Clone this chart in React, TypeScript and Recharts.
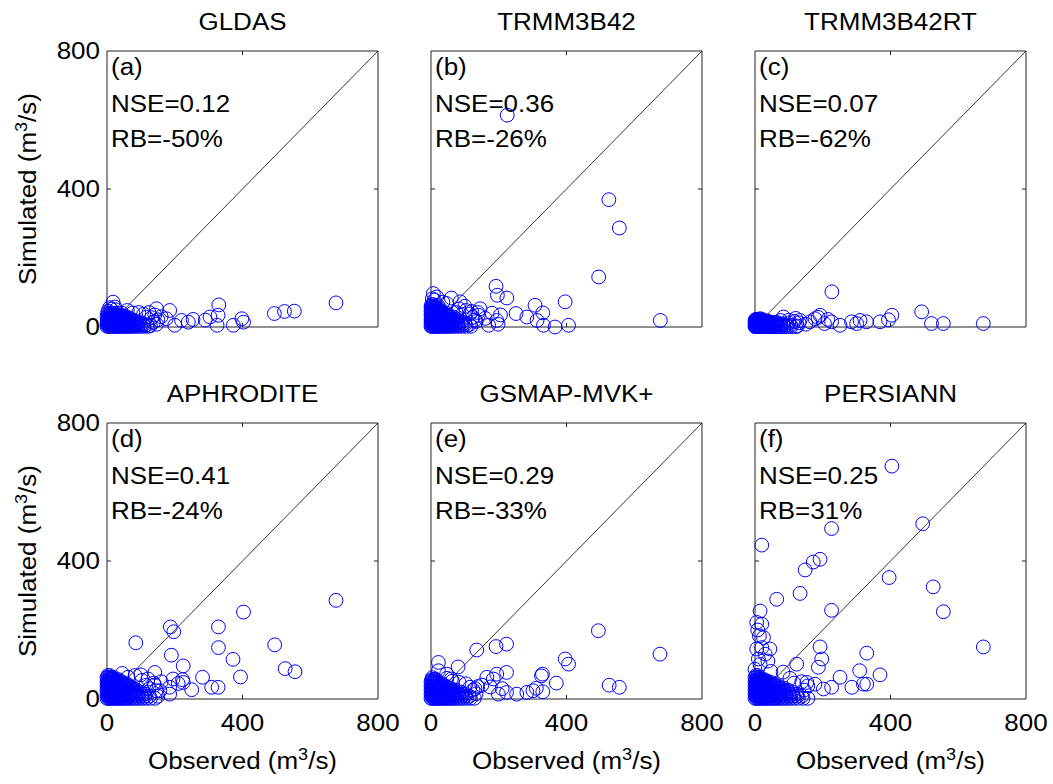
import { ScatterChart, Scatter, XAxis, YAxis, ReferenceLine, ReferenceArea, Label } from 'recharts';

type Pair = [number, number];

const FONT = '"Liberation Sans", Arial, Helvetica, sans-serif';
const axisTicks = [0, 400, 800];
const titles = ['GLDAS', 'TRMM3B42', 'TRMM3B42RT', 'APHRODITE', 'GSMAP-MVK+', 'PERSIANN'];
const tags = ['(a)', '(b)', '(c)', '(d)', '(e)', '(f)'];
const nseValues = ['0.12', '0.36', '0.07', '0.41', '0.29', '0.25'];
const rbValues = ['-50%', '-26%', '-62%', '-24%', '-33%', '31%'];

// scattered points: [observed, simulated] (m3/s)
const gldas: Pair[] = [
  [676, 70], [553, 46], [524, 45], [494, 39], [403, 14], [398, 24], [373, 5], [330, 64], [328, 34], [325, 5],
  [304, 29], [290, 20], [254, 22], [240, 14], [220, 19], [200, 5], [185, 48], [175, 24], [146, 53], [160, 30],
  [18, 72], [23, 58], [8, 56], [3, 46], [12, 52], [26, 50], [60, 48], [44, 40], [76, 41], [94, 42], [108, 37],
  [124, 42], [132, 27], [137, 14], [141, 35], [146, 8], [150, 21], [116, 28], [128, 4],
];

const trmm3b42: Pair[] = [
  [225, 614], [525, 369], [556, 287], [495, 145], [677, 19], [396, 73], [192, 118], [224, 84], [196, 92],
  [307, 63], [330, 41], [283, 29], [251, 39], [313, 19], [332, 5], [366, 0], [406, 5], [194, 19], [170, 5],
  [198, 8], [145, 53], [205, 35], [180, 40], [160, 25], [86, 73], [46, 68], [17, 87], [7, 97], [60, 84],
  [100, 60], [120, 45], [130, 20], [140, 34], [4, 82], [10, 78], [20, 62], [35, 72], [83, 52], [103, 48],
  [115, 38], [124, 28], [133, 16], [138, 42], [74, 42], [92, 36],
];

const trmm3b42rt: Pair[] = [
  [227, 102], [492, 44], [674, 10], [556, 10], [521, 10], [404, 34], [394, 21], [369, 15], [329, 15], [310, 19],
  [300, 10], [285, 15], [251, 5], [226, 15], [192, 34], [186, 28], [177, 24], [162, 15], [150, 8], [133, 19],
  [120, 25], [84, 29], [100, 12], [205, 10], [215, 22], [116, 16], [125, 3], [130, 12], [100, 20], [75, 19],
  [3, 22], [15, 24],
];

const aphrodite: Pair[] = [
  [676, 286], [403, 252], [329, 209], [329, 149], [495, 157], [372, 115], [394, 64], [526, 88], [555, 79],
  [187, 209], [197, 195], [85, 163], [190, 127], [225, 96], [282, 63], [223, 56], [225, 48], [309, 34],
  [328, 34], [250, 27], [195, 58], [141, 77], [121, 58], [62, 63], [185, 34], [156, 24], [185, 14], [160, 50],
  [140, 40], [210, 45], [45, 74], [100, 70], [83, 68], [10, 62], [138, 46], [145, 24], [150, 8], [115, 40],
  [124, 30], [103, 54],
];

const gsmap: Pair[] = [
  [494, 198], [676, 130], [396, 116], [406, 101], [526, 40], [556, 34], [223, 159], [192, 152], [135, 142],
  [329, 72], [326, 67], [370, 46], [311, 31], [330, 21], [301, 24], [283, 19], [253, 14], [223, 19], [199, 14],
  [223, 77], [194, 72], [184, 58], [165, 63], [80, 93], [22, 106], [22, 82], [46, 72], [150, 40], [130, 30],
  [175, 35], [210, 30], [4, 62], [12, 58], [60, 58], [47, 60], [63, 52], [83, 48], [103, 44], [115, 34],
  [138, 36], [124, 26], [133, 15],
];

const persiann: Pair[] = [
  [404, 675], [495, 508], [226, 494], [20, 446], [192, 405], [172, 397], [148, 374], [396, 352], [526, 325],
  [133, 306], [64, 289], [556, 253], [226, 257], [674, 151], [15, 255], [5, 222], [20, 217], [13, 183],
  [25, 178], [5, 145], [20, 149], [44, 145], [10, 116], [192, 151], [197, 116], [330, 133], [187, 92],
  [123, 101], [309, 82], [251, 63], [369, 70], [330, 43], [320, 43], [286, 34], [226, 34], [202, 29],
  [177, 43], [153, 48], [8, 200], [30, 130], [15, 100], [38, 110], [0, 86], [47, 80], [83, 78], [103, 60],
  [138, 50], [145, 26], [156, 38], [115, 46],
];

// dense low-flow cloud near the origin: [simulated, ...observed values at that level]
const gldasDense: number[][] = [
  [2, 0, 4, 9, 13, 18, 22, 27, 31, 36, 41, 45, 50, 55, 60, 66, 71, 77, 84, 92, 101, 110, 122],
  [6, 2, 6, 11, 15, 20, 25, 29, 34, 39, 43, 48, 53, 58, 63, 69, 75, 82, 90, 99, 108, 118],
  [10, 0, 5, 9, 14, 19, 23, 28, 33, 38, 42, 47, 52, 57, 62, 68, 74, 80, 88, 96, 105],
  [15, 3, 7, 12, 17, 21, 26, 31, 36, 40, 45, 50, 56, 61, 67, 73, 79, 86, 94],
  [20, 1, 5, 10, 15, 20, 24, 29, 34, 39, 44, 49, 54, 60, 66, 72, 78],
  [25, 3, 8, 13, 18, 23, 28, 33, 38, 43, 48, 54, 60, 67],
  [30, 0, 6, 11, 16, 21, 27, 32, 38, 44, 50, 57],
  [35, 4, 9, 15, 21, 27, 34, 41],
  [40, 2, 8, 14, 22],
];

const trmm3b42Dense: number[][] = [
  [2, 0, 3, 7, 10, 14, 18, 22, 26, 30, 35, 40, 45, 51, 57, 64, 72, 81, 92, 104, 118],
  [7, 1, 5, 9, 13, 17, 21, 25, 29, 34, 39, 44, 50, 56, 63, 71, 80, 90, 101, 113],
  [12, 0, 3, 7, 11, 15, 19, 23, 27, 32, 37, 42, 48, 54, 61, 69, 78, 88, 99],
  [17, 2, 6, 10, 14, 18, 22, 26, 31, 36, 41, 47, 53, 60, 68, 77, 87],
  [23, 0, 4, 8, 12, 16, 20, 25, 30, 35, 40, 46, 52, 59, 67, 76],
  [29, 1, 5, 9, 13, 17, 22, 27, 32, 38, 44, 51, 58, 66],
  [35, 0, 4, 8, 12, 16, 21, 26, 31, 37, 43, 50],
  [41, 2, 6, 10, 14, 19, 24, 30, 36, 43],
  [47, 0, 4, 8, 12, 17, 23, 29],
  [53, 1, 5, 9, 14, 20, 26],
  [59, 0, 4, 8, 13],
  [65, 2, 6],
];

const trmm3b42rtDense: number[][] = [
  [1, 0, 3, 6, 9, 12, 15, 18, 21, 24, 28, 32, 36, 40, 45, 50, 56, 62, 69, 77, 86, 96, 107, 120],
  [5, 1, 4, 7, 10, 13, 16, 19, 22, 26, 30, 34, 38, 43, 48, 54, 60, 67, 75, 84, 94, 105],
  [9, 0, 3, 6, 9, 12, 15, 18, 21, 25, 29, 33, 37, 42, 47, 53, 59, 66, 74, 83],
  [13, 2, 5, 8, 11, 14, 17, 20, 24, 28, 32, 36, 41, 46, 52, 58, 65],
  [17, 0, 3, 6, 9, 12, 16, 20, 24, 28, 33, 38],
  [21, 1, 4, 7, 11, 15, 19, 24],
];

const aphroditeDense: number[][] = [
  [2, 0, 4, 8, 12, 16, 20, 25, 30, 35, 40, 45, 51, 57, 63, 70, 78, 86, 95, 105, 116, 128, 142],
  [8, 2, 6, 10, 14, 18, 23, 28, 33, 38, 43, 49, 55, 61, 68, 75, 83, 92, 102, 113, 125],
  [14, 0, 4, 8, 12, 16, 21, 26, 31, 36, 42, 48, 54, 60, 67, 74, 82, 91, 101, 112],
  [20, 2, 6, 10, 14, 19, 24, 29, 34, 40, 46, 52, 58, 65, 72, 80, 89, 99],
  [26, 0, 4, 8, 12, 17, 22, 27, 32, 38, 44, 50, 56, 63, 70, 78, 87],
  [32, 2, 6, 10, 15, 20, 25, 30, 36, 42, 48, 54, 61, 68, 76],
  [38, 0, 4, 8, 13, 18, 23, 28, 34, 40, 46, 53, 60, 67],
  [44, 2, 6, 11, 16, 21, 26, 32, 38, 44, 51, 58],
  [50, 0, 4, 9, 14, 19, 24, 30, 36, 43],
  [56, 2, 7, 12, 17, 22, 28, 34],
  [62, 0, 5, 10, 15, 21],
  [68, 3, 8],
];

const gsmapDense: number[][] = [
  [2, 0, 4, 8, 12, 16, 20, 25, 30, 35, 40, 45, 51, 57, 63, 70, 78, 86, 95, 105, 116, 128],
  [8, 2, 6, 10, 14, 18, 23, 28, 33, 38, 43, 49, 55, 61, 68, 75, 83, 92, 102, 113],
  [14, 0, 4, 8, 12, 16, 21, 26, 31, 36, 42, 48, 54, 60, 67, 74, 82, 91, 101],
  [20, 2, 6, 10, 14, 19, 24, 29, 34, 40, 46, 52, 58, 65, 72, 80, 89],
  [26, 0, 4, 8, 12, 17, 22, 27, 32, 38, 44, 50, 57, 64, 72],
  [32, 2, 6, 10, 15, 20, 25, 30, 36, 42, 49, 56],
  [38, 0, 4, 8, 13, 18, 23, 29, 35, 42],
  [44, 2, 6, 11, 16, 21, 27, 33],
  [50, 0, 4, 9, 14, 20],
  [56, 2, 7, 12],
];

const persiannDense: number[][] = [
  [2, 0, 4, 8, 12, 16, 20, 25, 30, 35, 40, 45, 51, 57, 63, 70, 78, 86, 95, 105, 116, 128, 142, 156],
  [8, 2, 6, 10, 14, 18, 23, 28, 33, 38, 43, 49, 55, 61, 68, 75, 83, 92, 102, 113, 125, 138],
  [14, 0, 4, 8, 12, 16, 21, 26, 31, 36, 42, 48, 54, 60, 67, 74, 82, 91, 101, 112, 124],
  [20, 2, 6, 10, 14, 19, 24, 29, 34, 40, 46, 52, 58, 65, 72, 80, 89, 99, 110],
  [26, 0, 4, 8, 12, 17, 22, 27, 32, 38, 44, 50, 56, 63, 70, 78, 87, 97],
  [32, 2, 6, 10, 15, 20, 25, 30, 36, 42, 48, 54, 61, 68, 76, 85],
  [38, 0, 4, 8, 13, 18, 23, 28, 34, 40, 46, 53, 60, 67],
  [44, 2, 6, 11, 16, 21, 26, 32, 38, 44, 51, 58],
  [50, 0, 4, 9, 14, 19, 24, 30, 36, 43],
  [56, 2, 7, 12, 17, 22, 28],
  [62, 0, 5, 10, 15],
  [68, 3, 8],
];

const panelData = [gldas, trmm3b42, trmm3b42rt, aphrodite, gsmap, persiann];
const panelDense = [gldasDense, trmm3b42Dense, trmm3b42rtDense, aphroditeDense, gsmapDense, persiannDense];

const colLefts = [107, 431, 755];
const rowTops = [51, 423];
const PW = 271;
const PH = 276;
const TICK_LEN = 12; // inward tick length, data units
const SX = 1.13; // the original font is set a little wider than Arial

const Ring = (p: any) => <circle cx={p.cx} cy={p.cy} r={6.9} fill="none" stroke="#0000ff" strokeWidth={1} />;

function T({ x, y, anchor = 'start', rotate = false, children }: any) {
  const tf = rotate ? `translate(${x},${y}) rotate(-90) scale(${SX},1)` : `translate(${x},${y}) scale(${SX},1)`;
  return (
    <text transform={tf} textAnchor={anchor} fontSize={23} fontFamily={FONT} fill="#000">
      {children}
    </text>
  );
}

const unit = (
  <>
    (m<tspan dy={-9} fontSize={16}>3</tspan>
    <tspan dy={9}>/s)</tspan>
  </>
);

const XTick = (p: any) => (
  <T x={p.x} y={p.y + 32} anchor="middle">
    {p.payload.value}
  </T>
);

const YTick = (p: any) => (
  <T x={p.x - 7} y={p.y + 8} anchor="end">
    {p.payload.value}
  </T>
);

function Panel({ i }: { i: number }) {
  const col = i % 3;
  const row = Math.floor(i / 3);
  const bottomRow = row === 1;
  const firstCol = col === 0;
  const xH = bottomRow ? 78 : 22;
  const dense = panelDense[i].flatMap(([sim, ...obs]) => obs.map((o) => ({ x: o, y: sim })));
  const data = [...dense, ...panelData[i].map(([x, y]) => ({ x, y }))];

  const texts = (p: any) => {
    const { x, y, width, height } = p.viewBox;
    const cx = x + width / 2;
    const cy = y + height / 2;
    return (
      <g>
        <T x={cx} y={y - 21} anchor="middle">{titles[i]}</T>
        <T x={x + 4} y={y + 24}>{tags[i]}</T>
        <T x={x + 4} y={y + 61}>NSE={nseValues[i]}</T>
        <T x={x + 4} y={y + 96}>RB={rbValues[i]}</T>
        {firstCol && (
          <T x={x - 71} y={cy} anchor="middle" rotate>
            Simulated {unit}
          </T>
        )}
        {bottomRow && (
          <T x={cx} y={y + height + 70} anchor="middle">
            Observed {unit}
          </T>
        )}
      </g>
    );
  };

  return (
    <div style={{ position: 'absolute', left: colLefts[col] - 100, top: rowTops[row] - 50 }}>
      <ScatterChart width={100 + PW + 25} height={50 + PH + xH} margin={{ top: 50, right: 25, bottom: 0, left: 0 }}>
        <XAxis
          type="number"
          dataKey="x"
          domain={[0, 800]}
          ticks={axisTicks}
          interval={0}
          axisLine={false}
          tickLine={false}
          tickSize={0}
          tickMargin={0}
          height={xH}
          tick={bottomRow ? XTick : false}
        />
        <YAxis
          type="number"
          dataKey="y"
          domain={[0, 800]}
          ticks={axisTicks}
          interval={0}
          axisLine={false}
          tickLine={false}
          tickSize={0}
          tickMargin={0}
          width={100}
          tick={firstCol ? YTick : false}
        />
        <ReferenceArea x1={0} x2={800} y1={0} y2={800} fill="none" stroke="#222" strokeWidth={1} ifOverflow="visible">
          <Label content={texts} />
        </ReferenceArea>
        <ReferenceLine segment={[{ x: 0, y: 0 }, { x: 800, y: 800 }]} stroke="#000" strokeWidth={0.8} />
        <ReferenceLine segment={[{ x: 400, y: 0 }, { x: 400, y: TICK_LEN }]} stroke="#222" />
        <ReferenceLine segment={[{ x: 400, y: 800 }, { x: 400, y: 800 - TICK_LEN }]} stroke="#222" />
        <ReferenceLine segment={[{ x: 0, y: 400 }, { x: TICK_LEN, y: 400 }]} stroke="#222" />
        <ReferenceLine segment={[{ x: 800, y: 400 }, { x: 800 - TICK_LEN, y: 400 }]} stroke="#222" />
        <Scatter data={data} shape={Ring} isAnimationActive={false} />
      </ScatterChart>
    </div>
  );
}

export default function App() {
  return (
    <div style={{ position: 'absolute', left: 0, top: 0, width: 1053, height: 784, background: '#fff', overflow: 'hidden' }}>
      {[0, 1, 2, 3, 4, 5].map((i) => (
        <Panel key={i} i={i} />
      ))}
    </div>
  );
}
